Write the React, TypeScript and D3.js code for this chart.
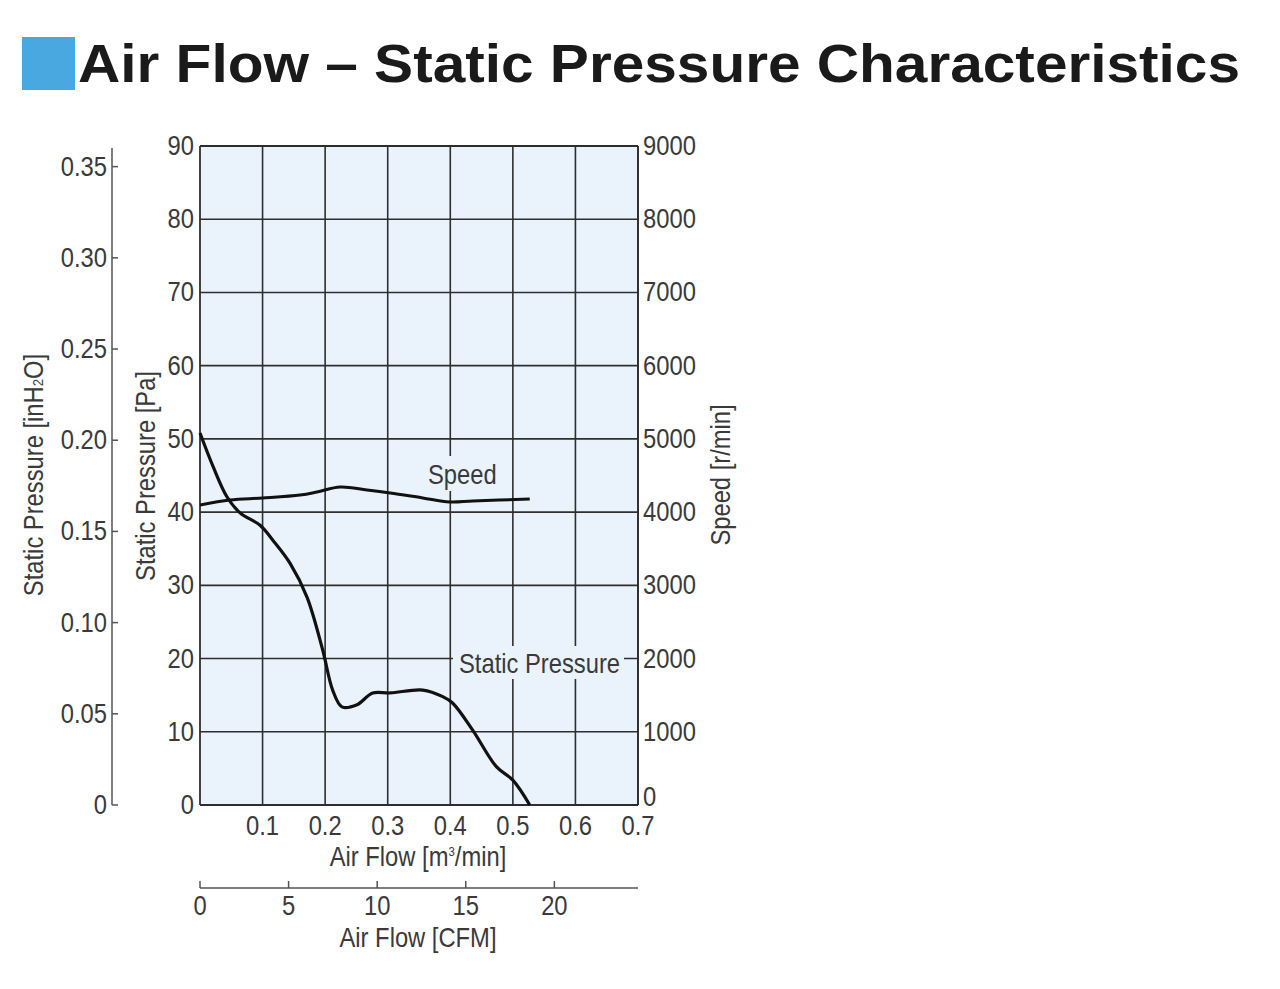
import React from "react";
import * as d3 from "d3";

const flowTicks = [0.1, 0.2, 0.3, 0.4, 0.5, 0.6, 0.7];
const paTicks = [0, 10, 20, 30, 40, 50, 60, 70, 80, 90];
const inTicks = [0, 0.05, 0.1, 0.15, 0.2, 0.25, 0.3, 0.35];
const inTickLabels = ["0", "0.05", "0.10", "0.15", "0.20", "0.25", "0.30", "0.35"];
const speedTicks = [0, 1000, 2000, 3000, 4000, 5000, 6000, 7000, 8000, 9000];
const cfmTicks = [0, 5, 10, 15, 20];

const pressureFlow = [0, 0.021, 0.043, 0.064, 0.096, 0.117, 0.144, 0.171, 0.196, 0.212, 0.227, 0.251, 0.276, 0.304, 0.356, 0.388, 0.404, 0.436, 0.474, 0.5, 0.527];
const pressureVals = [50.8, 46.2, 42.1, 39.9, 38.2, 36.1, 33.0, 28.4, 21.2, 15.7, 13.4, 13.7, 15.3, 15.3, 15.7, 14.8, 13.9, 10.2, 5.2, 3.4, 0];

const speedFlow = [0, 0.048, 0.1, 0.16, 0.187, 0.224, 0.267, 0.304, 0.356, 0.399, 0.436, 0.527];
const speedVals = [4097, 4166, 4193, 4234, 4275, 4343, 4302, 4261, 4193, 4138, 4152, 4179];

const PA_PER_INH2O = 249.09;
const CFM_PER_M3MIN = 35.315;

const FONT = "'Liberation Sans', Arial, sans-serif";
const TXT = "#3a3a3a";
const GRID = "#2e2e2e";
const BG = "#eaf3fc";
const FS = 27;
const SX = 0.88;

function Txt({ x, y, anchor = "start", rotate = 0, children }: { x: number; y: number; anchor?: string; rotate?: number; children: React.ReactNode }) {
  return (
    <text
      transform={`translate(${x},${y})${rotate ? ` rotate(${rotate})` : ""} scale(${SX},1)`}
      textAnchor={anchor}
      fontFamily={FONT}
      fontSize={FS}
      fill={TXT}
    >
      {children}
    </text>
  );
}

export default function App() {
  const L = 200, R = 638, T = 146, B = 805;
  const x = d3.scaleLinear().domain([0, 0.7]).range([L, R]);
  const y = d3.scaleLinear().domain([0, 90]).range([B, T]);
  const yIn = d3.scaleLinear().domain([0, 90 / PA_PER_INH2O]).range([B, T]);
  const ySp = d3.scaleLinear().domain([0, 9000]).range([B, T]);
  const xCfm = d3.scaleLinear().domain([0, 0.7 * CFM_PER_M3MIN]).range([L, R]);

  const pLine = d3
    .line<number>()
    .x((_, i) => x(pressureFlow[i]))
    .y((d) => y(d))
    .curve(d3.curveCatmullRom.alpha(0.5));
  const sLine = d3
    .line<number>()
    .x((_, i) => x(speedFlow[i]))
    .y((d) => ySp(d))
    .curve(d3.curveCatmullRom.alpha(0.5));

  return (
    <svg width={1280} height={989} style={{ position: "absolute", left: 0, top: 0, display: "block" }}>
      {/* Title */}
      <rect x={22} y={37} width={53} height={53} fill="#4aa8e0" />
      <text
        x={78}
        y={82}
        fontFamily="'Liberation Sans', Arial, sans-serif"
        fontWeight="bold"
        fontSize={54}
        fill="#1a1a1a"
        textLength={1162}
        lengthAdjust="spacingAndGlyphs"
      >
        Air Flow – Static Pressure Characteristics
      </text>

      {/* plot background */}
      <rect x={L} y={T} width={R - L} height={B - T} fill={BG} />

      {/* vertical grid */}
      {flowTicks.map((t) => (
        <line key={"vx" + t} x1={x(t)} x2={x(t)} y1={T} y2={B} stroke={GRID} strokeWidth={1.6} />
      ))}
      {/* horizontal grid */}
      {paTicks.map((t) => (
        <line key={"hy" + t} x1={L} x2={R} y1={y(t)} y2={y(t)} stroke={GRID} strokeWidth={1.6} />
      ))}
      {/* frame */}
      <line x1={L} x2={L} y1={T} y2={B} stroke={GRID} strokeWidth={1.8} />
      <line x1={R} x2={R} y1={T} y2={B} stroke={GRID} strokeWidth={1.8} />
      <line x1={L} x2={R} y1={B} y2={B} stroke={GRID} strokeWidth={1.8} />
      <line x1={L} x2={R} y1={T} y2={T} stroke={GRID} strokeWidth={1.8} />

      {/* label backgrounds breaking grid */}
      <rect x={424} y={456} width={72} height={35} fill={BG} />
      <rect x={453} y={646} width={171} height={33} fill={BG} />

      {/* curves */}
      <path d={sLine(speedVals) || ""} fill="none" stroke="#111" strokeWidth={3} />
      <path d={pLine(pressureVals) || ""} fill="none" stroke="#111" strokeWidth={3.2} />

      {/* curve labels */}
      <Txt x={428} y={484}>Speed</Txt>
      <Txt x={459} y={673}>Static Pressure</Txt>

      {/* Pa axis labels */}
      {paTicks.map((t) => (
        <Txt key={"pl" + t} x={194} y={y(t) + 9} anchor="end">{t}</Txt>
      ))}
      {/* Speed axis labels */}
      {speedTicks.map((t) => (
        <Txt key={"sl" + t} x={643} y={ySp(t) + (t === 0 ? 1 : 9)}>{t}</Txt>
      ))}
      {/* flow labels */}
      {flowTicks.map((t) => (
        <Txt key={"fl" + t} x={x(t)} y={835} anchor="middle">{t}</Txt>
      ))}
      <Txt x={418} y={866} anchor="middle">
        Air Flow [m<tspan fontSize={13} dy={-10}>3</tspan><tspan dy={10}>/min]</tspan>
      </Txt>

      {/* inH2O axis */}
      <line x1={112} x2={112} y1={148} y2={B} stroke="#555" strokeWidth={1.5} />
      {inTicks.map((t, i) => (
        <g key={"in" + t}>
          <line x1={112} x2={118} y1={yIn(t)} y2={yIn(t)} stroke="#555" strokeWidth={1.5} />
          <Txt x={107} y={yIn(t) + 9} anchor="end">{inTickLabels[i]}</Txt>
        </g>
      ))}

      {/* CFM axis */}
      <line x1={L} x2={R} y1={888} y2={888} stroke="#555" strokeWidth={1.5} />
      {cfmTicks.map((t) => (
        <g key={"cf" + t}>
          <line x1={xCfm(t)} x2={xCfm(t)} y1={881} y2={888} stroke="#555" strokeWidth={1.5} />
          <Txt x={xCfm(t)} y={915} anchor="middle">{t}</Txt>
        </g>
      ))}
      <Txt x={418} y={947} anchor="middle">Air Flow [CFM]</Txt>

      {/* axis titles */}
      <Txt x={43} y={475} rotate={-90} anchor="middle">
        Static Pressure [inH<tspan fontSize={15}>2</tspan>O]
      </Txt>
      <Txt x={155} y={476} rotate={-90} anchor="middle">Static Pressure [Pa]</Txt>
      <Txt x={730} y={475} rotate={-90} anchor="middle">Speed [r/min]</Txt>
    </svg>
  );
}
